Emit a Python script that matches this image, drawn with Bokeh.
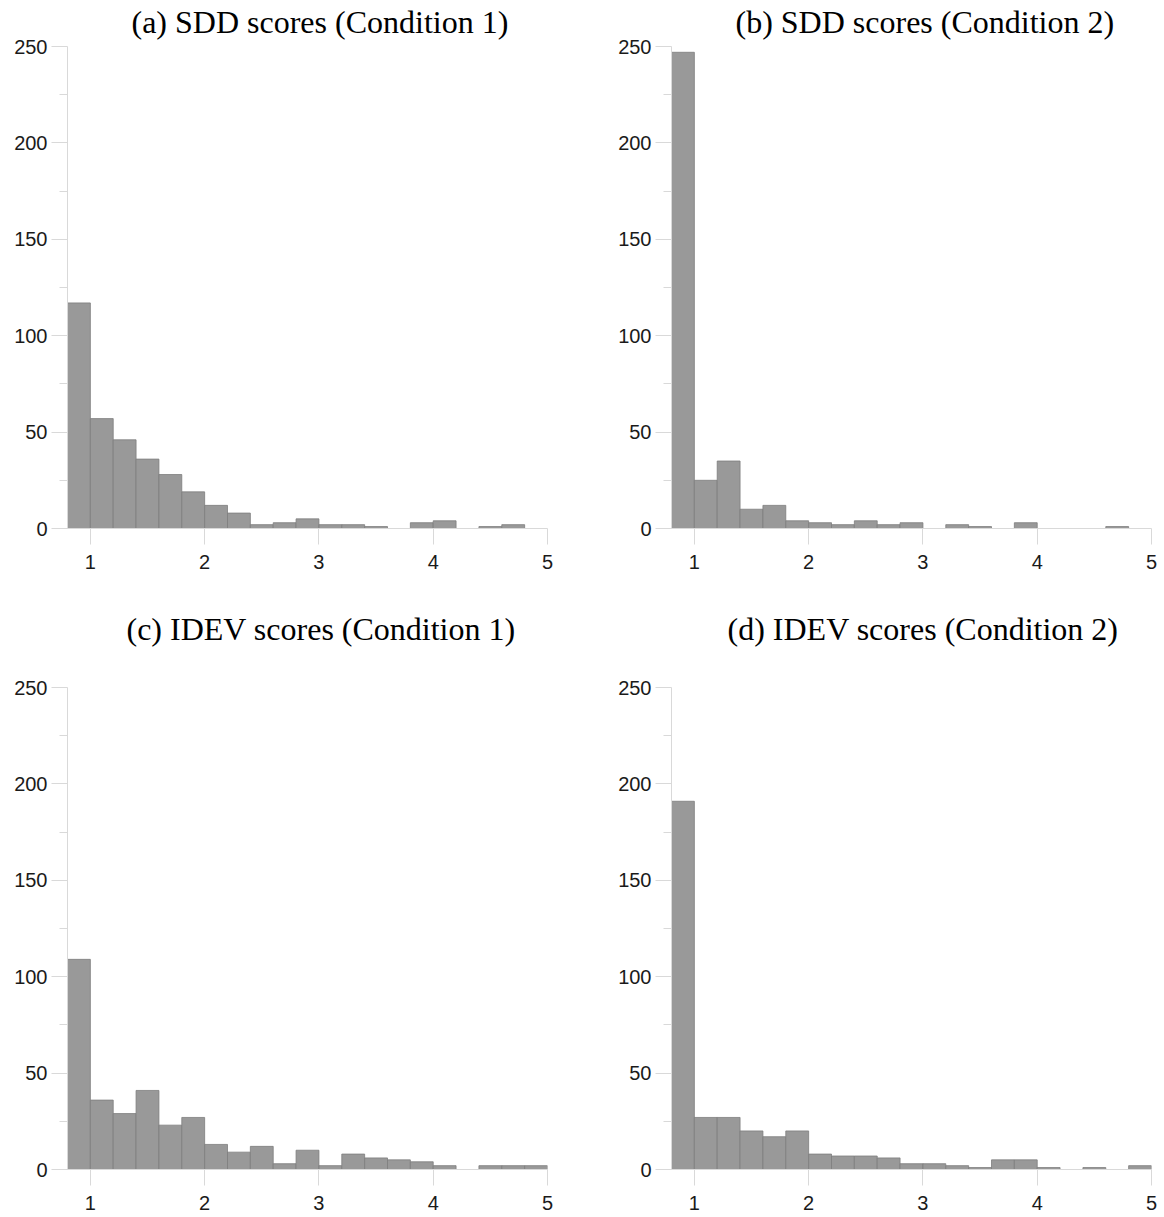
from bokeh.plotting import figure
from bokeh.layouts import row, column
from bokeh.models import Range1d, FixedTicker, ColumnDataSource, Title
from bokeh.embed import file_html
from bokeh.resources import INLINE

# Histogram bins (score values)
bin_edges = [0.8, 1.0, 1.2, 1.4, 1.6, 1.8, 2.0, 2.2, 2.4, 2.6, 2.8, 3.0,
             3.2, 3.4, 3.6, 3.8, 4.0, 4.2, 4.4, 4.6, 4.8, 5.0]

# Counts per bin
sdd_cond1 = [117, 57, 46, 36, 28, 19, 12, 8, 2, 3, 5, 2, 2, 1, 0, 3, 4, 0, 1, 2, 0]
sdd_cond2 = [247, 25, 35, 10, 12, 4, 3, 2, 4, 2, 3, 0, 2, 1, 0, 3, 0, 0, 0, 1, 0]
idev_cond1 = [109, 36, 29, 41, 23, 27, 13, 9, 12, 3, 10, 2, 8, 6, 5, 4, 2, 0, 2, 2, 2]
idev_cond2 = [191, 27, 27, 20, 17, 20, 8, 7, 7, 6, 3, 3, 2, 1, 5, 5, 1, 0, 1, 0, 2]

titles = ["(a) SDD scores (Condition 1)", "(b) SDD scores (Condition 2)",
          "(c) IDEV scores (Condition 1)", "(d) IDEV scores (Condition 2)"]

x_ticks = [1, 2, 3, 4, 5]
y_ticks = [0, 50, 100, 150, 200, 250]
y_minor = [25, 75, 125, 175, 225]

AXIS_GRAY = "#d9d9d9"
BAR_FILL = "#999999"
BAR_LINE = "#7d7d7d"


def make_panel(title, counts, border_left, border_right, border_top,
               border_bottom, title_offset, gap_font_size):
    p = figure(frame_width=480, frame_height=482,
               min_border_left=border_left, min_border_right=border_right,
               min_border_top=border_top, min_border_bottom=border_bottom,
               x_range=Range1d(bin_edges[0], bin_edges[-1]),
               y_range=Range1d(y_ticks[0], y_ticks[-1]),
               output_backend="svg", toolbar_location=None)
    nz = [i for i, c in enumerate(counts) if c > 0]
    src = ColumnDataSource(dict(left=[bin_edges[i] for i in nz],
                                right=[bin_edges[i + 1] for i in nz],
                                top=[counts[i] for i in nz],
                                bottom=[0] * len(nz)))
    p.quad(left="left", right="right", top="top", bottom="bottom", source=src,
           fill_color=BAR_FILL, line_color=BAR_LINE, line_width=0.8)

    # blank spacer between frame and title (closest to the frame)
    p.add_layout(Title(text=" ", text_font="Liberation Serif",
                       text_font_size=gap_font_size, standoff=0), "above")
    p.add_layout(Title(text=title, text_font="Liberation Serif",
                       text_font_size="32px", text_font_style="normal",
                       text_color="#000000", align="left",
                       offset=title_offset, standoff=3), "above")

    p.outline_line_color = None
    p.xgrid.visible = False
    p.ygrid.visible = False
    p.background_fill_color = "white"
    p.border_fill_color = "white"

    p.xaxis.ticker = FixedTicker(ticks=x_ticks)
    p.yaxis.ticker = FixedTicker(ticks=y_ticks, minor_ticks=y_minor)
    for ax in (p.xaxis[0], p.yaxis[0]):
        ax.axis_line_color = AXIS_GRAY
        ax.axis_line_width = 1
        ax.major_tick_line_color = AXIS_GRAY
        ax.minor_tick_line_color = AXIS_GRAY
        ax.major_tick_in = 0
        ax.major_tick_out = 16
        ax.minor_tick_in = 0
        ax.major_label_text_font = "Liberation Sans"
        ax.major_label_text_font_size = "20px"
        ax.major_label_text_color = "#1a1a1a"
    p.xaxis.minor_tick_out = 0
    p.yaxis.minor_tick_out = 8
    p.xaxis.major_label_standoff = 10
    p.yaxis.major_label_standoff = 4
    return p


pa = make_panel(titles[0], sdd_cond1, 67, 46, 46, 79, 64, "3px")
pb = make_panel(titles[1], sdd_cond2, 78, 10, 46, 79, 64, "3px")
pc = make_panel(titles[2], idev_cond1, 67, 46, 80, 46, 59, "34px")
pd = make_panel(titles[3], idev_cond2, 78, 10, 80, 46, 56, "34px")

layout = column(row(pa, pb), row(pc, pd))

open("out.html", "w").write(file_html(layout, INLINE))
